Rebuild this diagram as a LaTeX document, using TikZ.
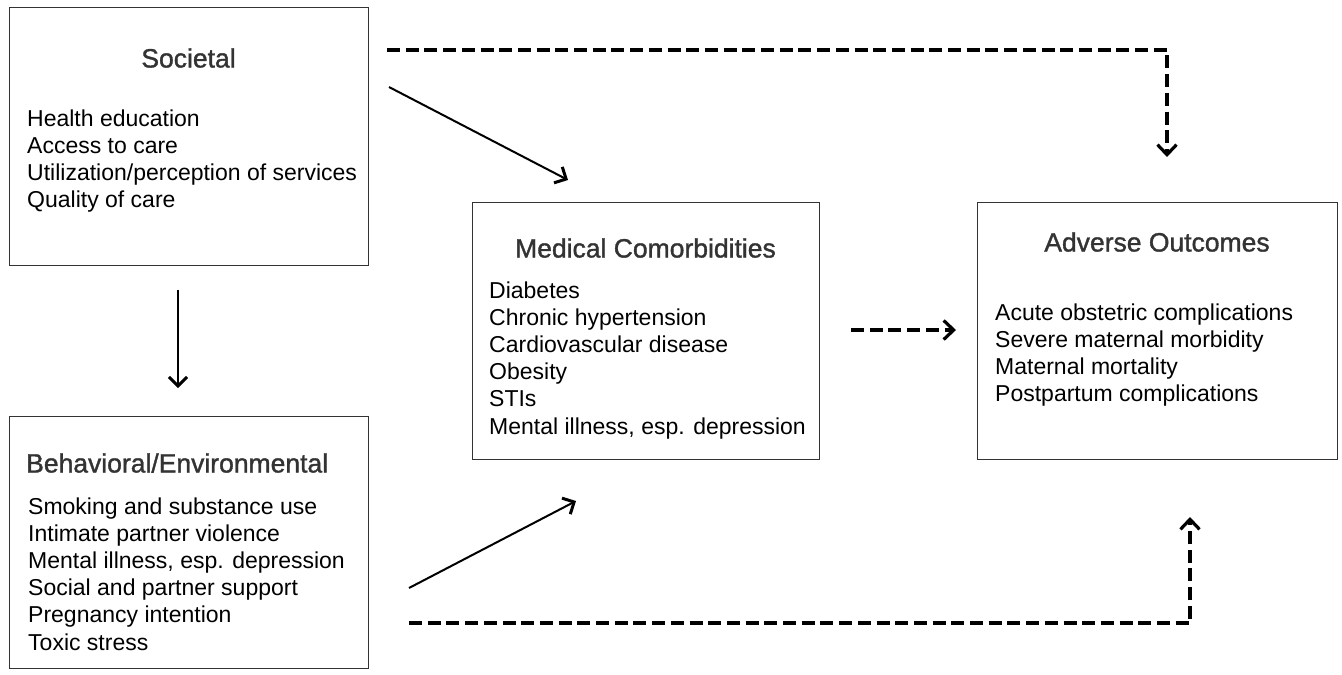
\documentclass[tikz,border=0pt]{standalone}
\usepackage{fontspec}
\setmainfont{Liberation Sans}
\newfontfamily\ttlfont[FakeBold=1.3]{Liberation Sans}
\usetikzlibrary{arrows.meta}
\begin{document}
\begin{tikzpicture}[x=1pt,y=-1pt,
  box/.style={draw=black!80, line width=1.4pt, inner sep=0pt, anchor=north west},
  ttl/.style={inner sep=0pt, text=black!80, font=\ttlfont\fontsize{26.5}{30}\selectfont},
  items/.style={inner sep=0pt, anchor=north west, align=left, font=\fontsize{23}{27.2}\selectfont},
  solidarrow/.style={line width=2pt, -{Straight Barb[length=9pt,width=18pt,line width=3pt]}},
  dasharrow/.style={line width=4pt, dash pattern=on 13pt off 5.7pt, -{Straight Barb[length=10pt,width=19pt,line width=3.2pt]}}
]
\useasboundingbox (0,0) rectangle (1342,675);
% boxes
\node[box, minimum width=359pt, minimum height=258pt] (soc) at (9,7) {};
\node[box, minimum width=359pt, minimum height=252pt] (beh) at (9,416) {};
\node[box, minimum width=347pt, minimum height=257pt] (med) at (472,202) {};
\node[box, minimum width=360pt, minimum height=257pt] (adv) at (977,202) {};
% titles
\node[ttl, anchor=base] (soct) at (188.5,67.5) {Societal};
\node[ttl, anchor=base west] (beht) at (26,472.5) {Behavioral/Environmental};
\node[ttl, anchor=base] (medt) at (645.5,257.5) {Medical Comorbidities};
\node[ttl, anchor=base] (advt) at (1157,251.5) {Adverse Outcomes};
% items
\node[items] (soci) at (27,109.3) {Health education\\Access to care\\Utilization/perception of services\\Quality of care};
\node[items] (behi) at (28,497.3) {Smoking and substance use\\Intimate partner violence\\Mental illness, esp. depression\\Social and partner support\\Pregnancy intention\\Toxic stress};
\node[items] (medi) at (489,281.3) {Diabetes\\Chronic hypertension\\Cardiovascular disease\\Obesity\\STIs\\Mental illness, esp. depression};
\node[items] (advi) at (995,303.3) {Acute obstetric complications\\Severe maternal morbidity\\Maternal mortality\\Postpartum complications};
% connector end points
\coordinate (a1s) at (389,87);   \coordinate (a1e) at (568,180);
\coordinate (a2s) at (178,290);  \coordinate (a2e) at (178,388);
\coordinate (a3s) at (409,588);  \coordinate (a3e) at (576,501);
\coordinate (d1s) at (387,50);   \coordinate (d1c) at (1167,50);  \coordinate (d1e) at (1167,157);
\coordinate (d2s) at (409,623);  \coordinate (d2c) at (1190,623); \coordinate (d2e) at (1190,517);
\coordinate (d3s) at (851,330);  \coordinate (d3e) at (956,330);
% connectors
\draw[solidarrow] (a1s) -- (a1e);
\draw[solidarrow] (a2s) -- (a2e);
\draw[solidarrow] (a3s) -- (a3e);
\draw[dasharrow] (d1s) -- (d1c) -- (d1e);
\draw[dasharrow] (d2s) -- (d2c) -- (d2e);
\draw[dasharrow] (d3s) -- (d3e);
\end{tikzpicture}
\end{document}
